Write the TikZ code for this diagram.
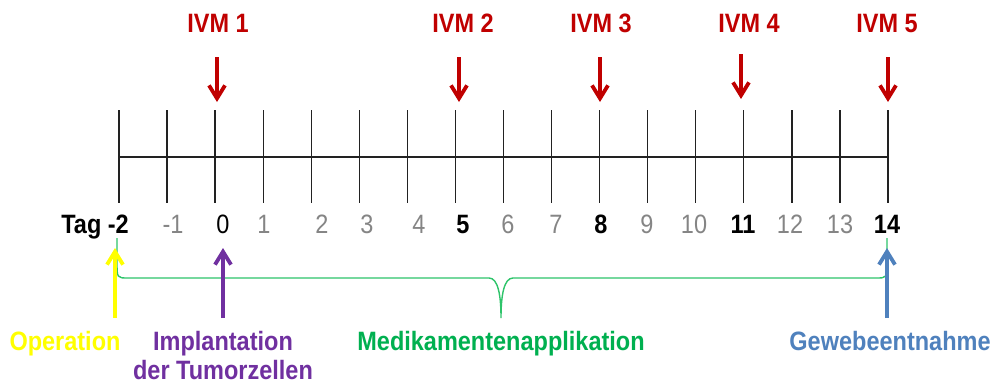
\documentclass[tikz,border=0pt]{standalone}
\usepackage{fontspec}
\setmainfont{Liberation Sans}
\usetikzlibrary{arrows.meta}
\definecolor{ivmred}{HTML}{C00000}
\definecolor{daygray}{HTML}{858585}
\definecolor{opyellow}{HTML}{FFFF00}
\definecolor{implpurple}{HTML}{7030A0}
\definecolor{medgreen}{HTML}{00B050}
\definecolor{bracegreen}{HTML}{2EC46A}
\definecolor{gewblue}{HTML}{4F81BD}
\definecolor{axisgray}{HTML}{222222}
\newcommand{\vst}[1]{\scalebox{1}[1.13]{#1}}
\begin{document}
\begin{tikzpicture}[x=1pt,y=-1pt,
  lbl/.style={inner sep=0pt,anchor=base,font=\fontsize{23.5}{28}\selectfont},
  daylbl/.style={lbl,text=daygray},
  keylbl/.style={lbl,text=black,font=\fontsize{23.5}{28}\selectfont\bfseries},
  ivmlbl/.style={lbl,text=ivmred,font=\fontsize{23.5}{28}\selectfont\bfseries},
  botlbl/.style={lbl,font=\fontsize{23.5}{28}\selectfont\bfseries},
  tick/.style={draw=axisgray,line width=1.3pt},
  bigarrow/.style={line width=3.8pt,-{Straight Barb[length=13pt,width=16pt]}}
]
\useasboundingbox[fill=white] (0,0) rectangle (998,384);

% axis
\foreach \i in {0,...,16} {
  \coordinate (t\i top) at ({119+48.06*\i},110);
  \coordinate (t\i bot) at ({119+48.06*\i},203);
  \draw[tick] (t\i top) -- (t\i bot);
}
\coordinate (axL) at (119,157);
\coordinate (axR) at (888,157);
\draw[tick] (axL) -- (axR);

% day labels
\node[keylbl,anchor=base east] (dm2) at (129,233) {\vst{Tag -2}};
\node[daylbl] (dm1) at (173,233) {\vst{-1}};
\node[lbl] (d0) at (223,233) {\vst{0}};
\node[daylbl] (d1) at (264,233) {\vst{1}};
\node[daylbl] (d2) at (322,233) {\vst{2}};
\node[daylbl] (d3) at (367,233) {\vst{3}};
\node[daylbl] (d4) at (419,233) {\vst{4}};
\node[keylbl] (d5) at (463,233) {\vst{5}};
\node[daylbl] (d6) at (508,233) {\vst{6}};
\node[daylbl] (d7) at (556,233) {\vst{7}};
\node[keylbl] (d8) at (601,233) {\vst{8}};
\node[daylbl] (d9) at (647,233) {\vst{9}};
\node[daylbl] (d10) at (694,233) {\vst{10}};
\node[keylbl] (d11) at (743,233) {\vst{11}};
\node[daylbl] (d12) at (790,233) {\vst{12}};
\node[daylbl] (d13) at (840,233) {\vst{13}};
\node[keylbl] (d14) at (887,233) {\vst{14}};

% IVM labels and arrows
\node[ivmlbl] (ivm1) at (218,32) {\vst{IVM 1}};
\node[ivmlbl] (ivm2) at (463,32) {\vst{IVM 2}};
\node[ivmlbl] (ivm3) at (601,32) {\vst{IVM 3}};
\node[ivmlbl] (ivm4) at (749,32) {\vst{IVM 4}};
\node[ivmlbl] (ivm5) at (887,32) {\vst{IVM 5}};
\coordinate (a1s) at (217,57); \coordinate (a1e) at (217,102);
\coordinate (a2s) at (459,57); \coordinate (a2e) at (459,102);
\coordinate (a3s) at (600,57); \coordinate (a3e) at (600,102);
\coordinate (a4s) at (741,54); \coordinate (a4e) at (741,99);
\coordinate (a5s) at (888,57); \coordinate (a5e) at (888,102);
\foreach \k in {1,...,5} \draw[bigarrow,ivmred] (a\k s) -- (a\k e);

% brace
\coordinate (brL) at (117,238);
\coordinate (brR) at (887,238);
\coordinate (brM) at (501,318);
\draw[bracegreen,line width=1.4pt]
  (brL) -- (117,262) .. controls (117,278) .. (128,278) -- (489,278)
  .. controls (498,278) and (501,295) .. (brM)
  .. controls (501,295) and (504,278) .. (513,278) -- (876,278)
  .. controls (887,278) .. (887,262) -- (brR);

% bottom labels
\node[botlbl,text=opyellow] (op) at (65,350) {\vst{Operation}};
\node[botlbl,text=implpurple] (impl1) at (223,350) {\vst{Implantation}};
\node[botlbl,text=implpurple] (impl2) at (223,379) {\vst{der Tumorzellen}};
\node[botlbl,text=medgreen] (med) at (501,350) {\vst{Medikamentenapplikation}};
\node[botlbl,text=gewblue] (gew) at (890,350) {\vst{Gewebeentnahme}};

% bottom arrows
\coordinate (yS) at (115,318); \coordinate (yE) at (115,248);
\coordinate (pS) at (223,318); \coordinate (pE) at (223,248);
\coordinate (bS) at (887,318); \coordinate (bE) at (887,248);
\draw[bigarrow,opyellow] (yS) -- (yE);
\draw[bigarrow,implpurple] (pS) -- (pE);
\draw[bigarrow,gewblue] (bS) -- (bE);
\end{tikzpicture}
\end{document}
